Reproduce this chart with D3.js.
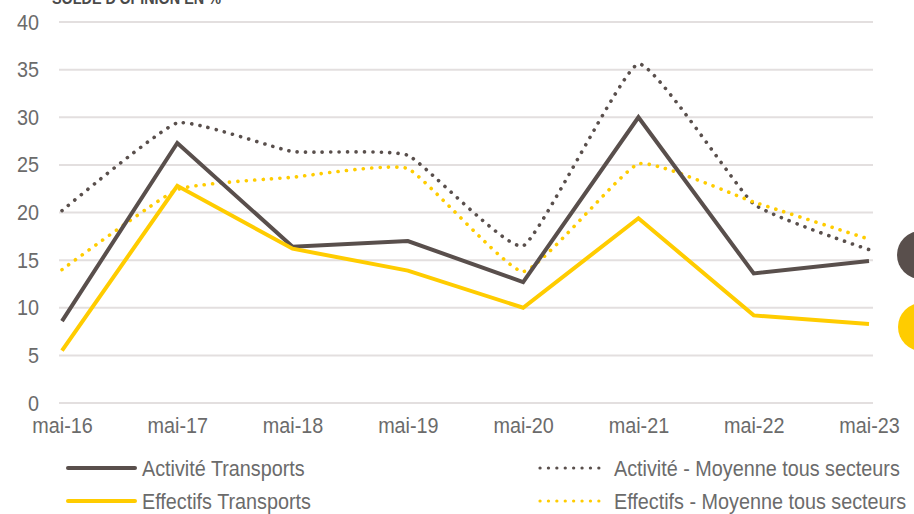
<!DOCTYPE html>
<html lang="fr">
<head>
<meta charset="UTF-8">
<title>Solde d'opinion</title>
<script src="https://d3js.org/d3.v7.min.js"></script>
<style>
  body { margin: 0; background: #fff; overflow: hidden; }
  svg { display: block; }
  text { font-family: "Liberation Sans", Arial, sans-serif; }
</style>
</head>
<body>
<svg id="chart"></svg>
<script>
const categories = ["mai-16", "mai-17", "mai-18", "mai-19", "mai-20", "mai-21", "mai-22", "mai-23"];
const activiteTransports = [8.6, 27.3, 16.4, 17.0, 12.7, 30.0, 13.6, 14.9];
const effectifsTransports = [5.5, 22.8, 16.2, 13.9, 10.0, 19.4, 9.2, 8.3];
const activiteMoyenne = [20.2, 29.4, 26.4, 26.0, 16.5, 35.6, 20.9, 16.1];
const effectifsMoyenne = [14.0, 22.4, 23.7, 24.6, 13.8, 25.1, 21.1, 17.2];
const yTicks = [0, 5, 10, 15, 20, 25, 30, 35, 40];

const grey = "#594f4c", yellow = "#ffcc00";
const W = 914, H = 514;
const squeeze = "scale(0.9,1)"; // the source uses a narrow face

const series = [
  { name: "Activité Transports", values: activiteTransports, color: grey, dotted: false },
  { name: "Effectifs Transports", values: effectifsTransports, color: yellow, dotted: false },
  { name: "Activité - Moyenne tous secteurs", values: activiteMoyenne, color: grey, dotted: true },
  { name: "Effectifs - Moyenne tous secteurs", values: effectifsMoyenne, color: yellow, dotted: true }
];

const svg = d3.select("#chart").attr("width", W).attr("height", H);

const x = d3.scalePoint().domain(categories).range([62, 869]);
const y = d3.scaleLinear().domain([0, 40]).range([403, 22]);

// title, cut at the top like the source
svg.append("text")
  .attr("transform", "translate(52,4) scale(0.9,1)")
  .attr("font-size", 16).attr("font-weight", "bold")
  .attr("fill", "#4a4a4a")
  .text("SOLDE D'OPINION EN %");

// grid
svg.append("g").selectAll("line")
  .data(yTicks).enter().append("line")
  .attr("x1", 59).attr("x2", 873)
  .attr("y1", d => y(d)).attr("y2", d => y(d))
  .attr("stroke", "#e3dfdf").attr("stroke-width", 2);

// y axis labels
const yAxis = svg.append("g")
  .attr("transform", "translate(39,0)")
  .call(d3.axisLeft(y).tickValues(yTicks).tickSize(0).tickPadding(0));
yAxis.select(".domain").remove();
yAxis.selectAll("text").attr("font-size", 22).attr("fill", "#6b6b6b")
  .attr("font-family", "\"Liberation Sans\", Arial, sans-serif")
  .attr("transform", squeeze);

// x axis labels
const xAxis = svg.append("g")
  .attr("transform", "translate(0,415)")
  .call(d3.axisBottom(x).tickSize(0).tickPadding(0));
xAxis.select(".domain").remove();
xAxis.selectAll("text").attr("font-size", 22).attr("fill", "#6b6b6b")
  .attr("dy", "0.8em")
  .attr("font-family", "\"Liberation Sans\", Arial, sans-serif")
  .attr("transform", squeeze);

// lines (dotted first so solid ones sit on top)
const straight = d3.line().x((d, i) => x(categories[i])).y(d => y(d));
const smooth = d3.line().x((d, i) => x(categories[i])).y(d => y(d)).curve(d3.curveCardinal.tension(0.6));

const order = [series[2], series[3], series[0], series[1]];
svg.append("g").selectAll("path")
  .data(order).enter().append("path")
  .attr("d", d => d.dotted ? smooth(d.values) : straight(d.values))
  .attr("fill", "none")
  .attr("stroke", d => d.color)
  .attr("stroke-width", d => d.dotted ? 3.6 : 4)
  .attr("stroke-linecap", d => d.dotted ? "round" : "butt")
  .attr("stroke-linejoin", "miter")
  .attr("stroke-dasharray", d => d.dotted ? "0.1 8.3" : null);

// right side bullets, partly off the page
svg.append("circle").attr("cx", 921).attr("cy", 255).attr("r", 24).attr("fill", grey);
svg.append("circle").attr("cx", 922).attr("cy", 327).attr("r", 24).attr("fill", yellow);

// legend
const legendPos = [[68, 468], [68, 501], [540, 468], [540, 501]];
const leg = svg.append("g").selectAll("g")
  .data(series).enter().append("g")
  .attr("transform", (d, i) => `translate(${legendPos[i][0]},${legendPos[i][1]})`);
leg.append("line")
  .attr("x1", 0).attr("x2", 67)
  .attr("stroke", d => d.color)
  .attr("stroke-width", d => d.dotted ? 3.2 : 4)
  .attr("stroke-linecap", "round")
  .attr("stroke-dasharray", d => d.dotted ? "0.1 8.3" : null);
leg.append("text")
  .attr("transform", "translate(74,8) scale(0.9,1)")
  .attr("font-size", 22).attr("fill", "#6b6b6b")
  .text(d => d.name);
</script>
</body>
</html>
